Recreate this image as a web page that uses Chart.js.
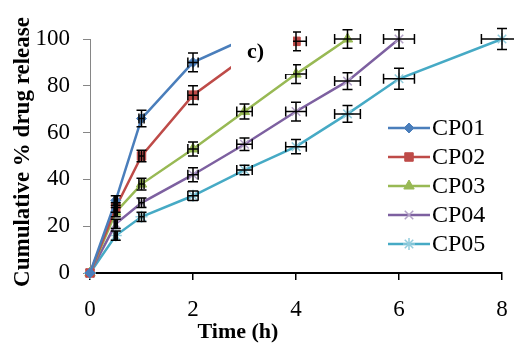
<!DOCTYPE html>
<html>
<head>
<meta charset="utf-8">
<script src="https://cdn.jsdelivr.net/npm/chart.js@4.4.1/dist/chart.umd.min.js"></script>
<style>
  html, body { margin: 0; padding: 0; background: #fff; }
  #wrap { position: relative; width: 514px; height: 346px; }
</style>
</head>
<body>
<div id="wrap"><canvas id="chart" width="514" height="346"></canvas></div>
<script>
// sampling times (h) and horizontal error of each time
const times = [0, 0.5, 1, 2, 3, 4, 5, 6, 8];
const timeErr = [0, 0.03, 0.05, 0.1, 0.15, 0.2, 0.25, 0.3, 0.4];

const seriesNames = ['CP01', 'CP02', 'CP03', 'CP04', 'CP05'];
// release values (%)
const cp01 = [0, 31, 66, 90, 100];
const cp02 = [0, 28, 50, 76, 92, 99];
const cp03 = [0, 26, 38, 53, 69, 85, 100];
const cp04 = [0, 21, 30, 42, 55, 69, 82, 100];
const cp05 = [0, 16, 24, 33, 44, 54, 68, 83, 100];
// vertical error bars (%)
const cp01Err = [0, 2, 3.5, 4, 3];
const cp02Err = [0, 2, 2.5, 4, 3, 4];
const cp03Err = [0, 2, 2.5, 3, 3.2, 4, 4];
const cp04Err = [0, 2, 2, 3, 2.7, 4, 3.6, 4];
const cp05Err = [0, 2, 2, 2, 2, 3, 3.6, 4.5, 4.5];

const xTicks = [0, 2, 4, 6, 8];
const yTicks = [0, 20, 40, 60, 80, 100];

const allValues = [cp01, cp02, cp03, cp04, cp05];
const allErrors = [cp01Err, cp02Err, cp03Err, cp04Err, cp05Err];
const lineColors = ['#4a7ebb', '#be4b48', '#98b954', '#7d60a0', '#46aac5'];
const markerColors = ['#4a7ebb', '#be4b48', '#98b954', '#b3a2c7', '#93cddd'];
const markerStyles = ['rectRot', 'rect', 'triangle', 'crossRot', 'star'];
const markerSizes = [5, 6, 6, 6, 6];

const serif = '"Liberation Serif", "Times New Roman", serif';

let datasets = allValues.map((vals, i) => ({
    label: seriesNames[i],
    data: vals.map((v, j) => ({ x: times[j], y: v, err: allErrors[i][j], xerr: timeErr[j] })),
    borderColor: lineColors[i],
    backgroundColor: markerColors[i],
    pointBackgroundColor: markerColors[i],
    pointBorderColor: markerColors[i],
    pointBorderWidth: (i >= 3) ? 1.5 : 1,
    pointStyle: markerStyles[i],
    pointRadius: markerSizes[i],
    borderWidth: 2.5,
    tension: 0,
    clip: false
}));

// black error bars in both directions
const errorBars = {
    id: 'errorBars',
    afterDatasetsDraw(chart) {
        const ctx = chart.ctx;
        const xs = chart.scales.x, ys = chart.scales.y;
        ctx.save();
        ctx.strokeStyle = '#000';
        ctx.lineWidth = 1.5;
        chart.data.datasets.forEach((ds) => {
            ds.data.forEach((p) => {
                if (p.x === 0) return;
                let cx = xs.getPixelForValue(p.x);
                let cy = ys.getPixelForValue(p.y);
                let top = ys.getPixelForValue(p.y + p.err);
                let bot = ys.getPixelForValue(p.y - p.err);
                let left = xs.getPixelForValue(p.x - p.xerr);
                let right = xs.getPixelForValue(p.x + p.xerr);
                ctx.beginPath();
                ctx.moveTo(cx, top); ctx.lineTo(cx, bot);
                ctx.moveTo(cx - 5, top); ctx.lineTo(cx + 5, top);
                ctx.moveTo(cx - 5, bot); ctx.lineTo(cx + 5, bot);
                ctx.moveTo(left, cy); ctx.lineTo(right, cy);
                ctx.moveTo(left, cy - 5); ctx.lineTo(left, cy + 5);
                ctx.moveTo(right, cy - 5); ctx.lineTo(right, cy + 5);
                ctx.stroke();
            });
        });
        ctx.restore();
    }
};

// "c)" text box, axis titles and the legend
const extras = {
    id: 'extras',
    afterDraw(chart) {
        const ctx = chart.ctx;
        ctx.save();
        // white text box that hides part of the curves
        ctx.fillStyle = '#fff';
        ctx.fillRect(231, 24, 62, 50);
        ctx.fillStyle = '#000';
        ctx.font = 'bold 22px ' + serif;
        ctx.textAlign = 'left';
        ctx.textBaseline = 'middle';
        ctx.fillText('c)', 247, 52);

        // axis titles
        ctx.textAlign = 'center';
        ctx.fillText('Time (h)', 238, 332);
        ctx.save();
        ctx.translate(23, 152);
        ctx.rotate(-Math.PI / 2);
        ctx.font = 'bold 23px ' + serif;
        ctx.fillText('Cumulative % drug release', 0, 0);
        ctx.restore();

        // legend
        chart.data.datasets.forEach((ds, i) => {
            let y = 128 + i * 29;
            ctx.strokeStyle = ds.borderColor;
            ctx.lineWidth = 2.5;
            ctx.beginPath();
            ctx.moveTo(388, y); ctx.lineTo(430, y);
            ctx.stroke();
            ctx.fillStyle = ds.pointBackgroundColor;
            ctx.strokeStyle = ds.pointBorderColor;
            ctx.lineWidth = ds.pointBorderWidth;
            Chart.helpers.drawPoint(ctx, { pointStyle: ds.pointStyle, radius: ds.pointRadius, borderWidth: ds.pointBorderWidth, rotation: 0 }, 409, y);
            ctx.fillStyle = '#000';
            ctx.font = '24px ' + serif;
            ctx.textAlign = 'left';
            ctx.fillText(ds.label, 432, y + 1);
        });
        ctx.restore();
    }
};

new Chart(document.getElementById('chart'), {
    type: 'line',
    data: { datasets: datasets },
    options: {
        responsive: false,
        animation: false,
        layout: { padding: { top: 39, right: 12, left: 0, bottom: 0 } },
        plugins: { legend: { display: false }, tooltip: { enabled: false } },
        scales: {
            x: {
                type: 'linear',
                min: 0, max: 8,
                afterBuildTicks: (scale) => { scale.ticks = xTicks.map(v => ({ value: v })); },
                afterFit: (scale) => {
                    scale.height = 73;
                    scale.paddingLeft = 0;
                    scale.paddingRight = 0;
                },
                ticks: { font: { family: serif, size: 23 }, color: '#000', padding: 16, maxRotation: 0 },
                grid: { drawOnChartArea: false, tickLength: 7, color: '#000', lineWidth: 1.5 },
                border: { color: '#000', width: 2 }
            },
            y: {
                min: 0, max: 100,
                afterBuildTicks: (scale) => { scale.ticks = yTicks.map(v => ({ value: v })); },
                afterFit: (scale) => { scale.width = 90; },
                ticks: { font: { family: serif, size: 23 }, color: '#000', padding: 13 },
                grid: { drawOnChartArea: false, tickLength: 7, color: '#868686' },
                border: { color: '#868686', width: 1 }
            }
        }
    },
    plugins: [errorBars, extras]
});
</script>
</body>
</html>
